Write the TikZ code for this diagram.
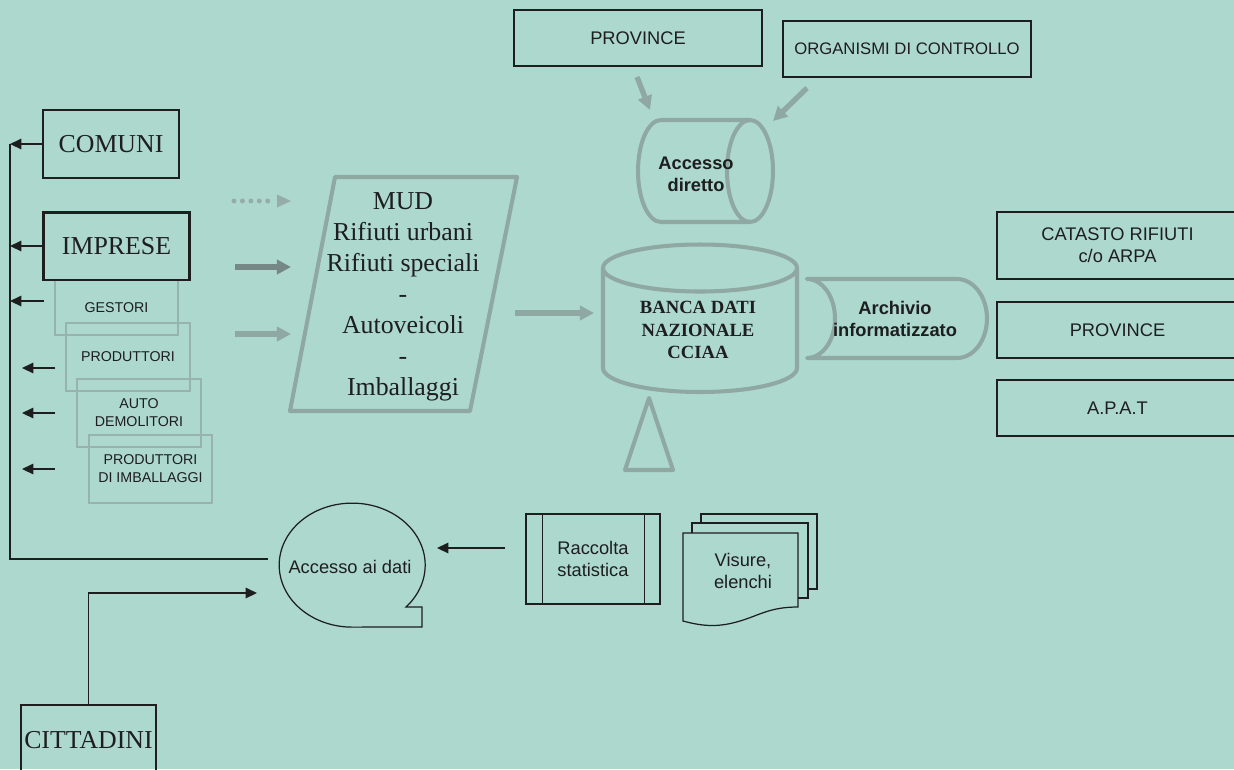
\documentclass[tikz,border=0pt]{standalone}
\usepackage{fontspec}
\setmainfont{Liberation Serif}
\setsansfont{Liberation Sans}
\usetikzlibrary{arrows.meta}

\definecolor{bgteal}{RGB}{172,216,206}
\definecolor{ink}{RGB}{30,30,30}
\definecolor{shapegrey}{RGB}{143,168,162}
\definecolor{boxgrey}{RGB}{152,178,172}
\definecolor{darkgrey}{RGB}{118,136,132}
\definecolor{dotgrey}{RGB}{150,172,166}

\begin{document}
\begin{tikzpicture}[x=0.02cm,y=-0.02cm,
  inkbox/.style={draw=ink, line width=1.1pt, inner sep=0pt, text=ink, align=center},
  greybox/.style={draw=boxgrey, line width=1.1pt, inner sep=0pt, minimum width=2.47cm,
    minimum height=1.36cm, text=ink, align=center, font=\sffamily\fontsize{8.1}{10.2}\selectfont},
  serifbig/.style={font=\fontsize{14.7}{17.7}\selectfont},
  sansmid/.style={font=\sffamily\fontsize{10.4}{12.5}\selectfont},
  sansbold/.style={font=\sffamily\bfseries\fontsize{10.4}{12.5}\selectfont, text=ink, align=center},
  greyshape/.style={draw=shapegrey, line width=2.3pt, line join=round},
  inkarrow/.style={draw=ink, line width=0.85pt, -{Triangle[length=6.5pt,width=6pt]}},
  fatarrow/.style={line width=3.6pt, -{Triangle[length=8pt,width=8pt]}},
  thinline/.style={draw=ink, line width=0.7pt}]

\fill[bgteal] (0,0) rectangle (1234,769);
\useasboundingbox (0,0) rectangle (1234,769);

% boxes on the left
\node[inkbox, serifbig, minimum width=2.72cm, minimum height=1.36cm] (comuni) at (111,144) {COMUNI};
\node[greybox, minimum width=2.46cm, minimum height=1.10cm] (gestori) at (116.5,307.5) {GESTORI};
\node[greybox] (produttori) at (128,357) {PRODUTTORI};
\node[greybox] (demolitori) at (139,413) {AUTO\\DEMOLITORI};
\node[greybox] (imballaggi) at (150.5,469) {PRODUTTORI\\DI IMBALLAGGI};
\node[inkbox, serifbig, line width=1.7pt, minimum width=2.94cm, minimum height=1.36cm] (imprese) at (116.5,246) {IMPRESE};
\node[inkbox, serifbig, minimum width=2.70cm, minimum height=1.40cm] (cittadini) at (88.5,740) {CITTADINI};

% return line
\coordinate (bus) at (10,144);
\coordinate (lefttip) at (22,0);
\coordinate (busend) at (268,559);
\draw[thinline] (bus) -- (bus |- busend) -- (busend);
\draw[inkarrow] (comuni.west) -- (comuni.west -| bus);
\draw[inkarrow] (imprese.west) -- (imprese.west -| bus);
\draw[inkarrow] ([xshift=-0.2cm,yshift=0.13cm]gestori.west) -- ([yshift=0.13cm]gestori.west -| bus);
\draw[inkarrow] ([xshift=-0.2cm,yshift=-0.22cm]produttori.west) -- ([yshift=-0.22cm]produttori.west -| lefttip);
\draw[inkarrow] ([xshift=-0.42cm]demolitori.west) -- (demolitori.west -| lefttip);
\draw[inkarrow] ([xshift=-0.66cm]imballaggi.west) -- (imballaggi.west -| lefttip);

% MUD
\draw[greyshape] (335,177) -- (517,177) -- (470,411) -- (290,411) -- cycle;
\node[serifbig, text=ink, align=center] (mud) at (403,297)
  {MUD\\Rifiuti urbani\\Rifiuti speciali\\-\\Autoveicoli\\-\\Imballaggi};
\coordinate (dotstart) at (234,201);
\coordinate (dottip) at (291,201);
\draw[dotgrey, line width=2.8pt, line cap=round, dash pattern=on 0pt off 4.8pt] (dotstart) -- (270,201);
\fill[dotgrey] (277,194.5) -- (dottip) -- (277,207.5) -- cycle;
\draw[fatarrow, draw=darkgrey, fill=darkgrey] (235,267) -- (291,267);
\draw[fatarrow, draw=shapegrey, fill=shapegrey] (235,334) -- (291,334);
\draw[fatarrow, draw=shapegrey, fill=shapegrey] (515,313) -- (594,313);

% banca dati
\draw[greyshape] (603,268) -- (603,368) arc[start angle=180, end angle=0, x radius=97, y radius=24] -- (797,268);
\draw[greyshape] (700,268) ellipse[x radius=97, y radius=23.5];
\node[font=\bfseries\fontsize{10.6}{13}\selectfont, text=ink, align=center] (bancadati) at (698,330)
  {BANCA DATI\\NAZIONALE\\CCIAA};
\draw[greyshape] (649,398) -- (673,470) -- (625,470) -- cycle;

% archivio
\draw[greyshape] (807,279) -- (957,279) arc[start angle=-90, end angle=90, x radius=30, y radius=39.5]
  -- (807,358) arc[start angle=90, end angle=-90, x radius=28, y radius=39.5] -- cycle;
\node[sansbold] (archivio) at (895,319) {Archivio\\informatizzato};

% accesso diretto
\node[inkbox, sansmid, minimum width=4.96cm, minimum height=1.12cm] (province) at (638,38) {PROVINCE};
\node[inkbox, font=\sffamily\fontsize{9.5}{11}\selectfont, minimum width=4.96cm, minimum height=1.12cm] (organismi) at (907,49) {ORGANISMI DI CONTROLLO};
\draw[greyshape] (750,120) -- (661,120) arc[start angle=-90, end angle=-270, x radius=23, y radius=51] -- (750,222);
\draw[greyshape] (750,171) ellipse[x radius=23, y radius=51];
\node[sansbold] (accdiretto) at (696,174) {Accesso\\diretto};
\coordinate (provfoot) at (637,77);
\coordinate (orgfoot) at (807,88);
\draw[fatarrow, line width=3pt, draw=shapegrey, fill=shapegrey] (provfoot) -- (650,110);
\draw[fatarrow, line width=3pt, draw=shapegrey, fill=shapegrey] (orgfoot) -- (773,121);

% destinatari
\node[inkbox, sansmid, minimum width=4.82cm, minimum height=1.34cm] (catasto) at (1117.5,245.5) {CATASTO RIFIUTI\\c/o ARPA};
\node[inkbox, sansmid, minimum width=4.82cm, minimum height=1.12cm] (provdx) at (1117.5,330) {PROVINCE};
\node[inkbox, sansmid, minimum width=4.82cm, minimum height=1.12cm] (apat) at (1117.5,408) {A.P.A.T};

% accesso ai dati
\draw[thinline] (406,607) arc[start angle=42.5, end angle=-270, x radius=73, y radius=62] -- (422,627) -- (422,607) -- cycle;
\node[sansmid, text=ink] (accdati) at (350,567) {Accesso ai dati};
\coordinate (cittip) at (257,593);
\draw[inkarrow] (cittadini.north) |- (cittip);

\node[inkbox, sansmid, line width=0.7pt, minimum width=2.68cm, minimum height=1.8cm] (raccolta) at (593,559) {Raccolta\\statistica};
\draw[thinline] ([xshift=0.34cm]raccolta.north west) -- ([xshift=0.34cm]raccolta.south west);
\draw[thinline] ([xshift=-0.32cm]raccolta.north east) -- ([xshift=-0.32cm]raccolta.south east);
\coordinate (racctail) at (505,548);
\coordinate (racctip) at (437,548);
\draw[inkarrow] (racctail) -- (racctip);

% visure
\draw[thinline] (701,523) -- (701,514) -- (817,514) -- (817,589) -- (808,589);
\draw[thinline] (692,533) -- (692,523) -- (808,523) -- (808,598) -- (798,598);
\draw[thinline] (683,533) -- (798,533) -- (798,607) .. controls (770,607) and (760,615) .. (740,621)
  .. controls (720,627) and (705,627) .. (683,621) -- cycle;
\node[sansmid, text=ink, align=center] (visure) at (743,571) {Visure,\\elenchi};
\end{tikzpicture}
\end{document}
